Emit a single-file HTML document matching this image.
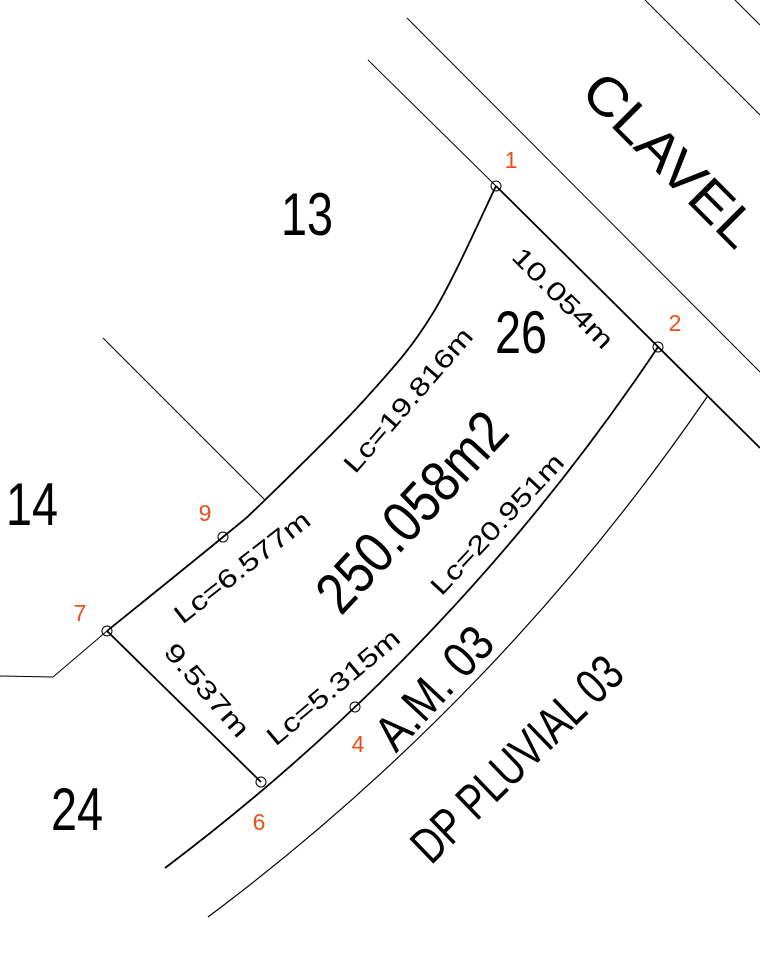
<!DOCTYPE html>
<html><head><style>body{margin:0;background:#fff}svg{display:block}</style></head><body>
<svg width="760" height="962" viewBox="0 0 760 962" xmlns="http://www.w3.org/2000/svg" font-family="Liberation Sans, sans-serif">
<g fill="none" stroke="#000" stroke-linejoin="round">
<line x1="368" y1="60" x2="496" y2="186" stroke-width="1"/>
<line x1="407" y1="18" x2="760" y2="372" stroke-width="1"/>
<line x1="645" y1="0" x2="760" y2="115" stroke-width="1"/>
<line x1="735" y1="0" x2="760" y2="25" stroke-width="1"/>
<line x1="496" y1="186" x2="760" y2="448" stroke-width="1.8"/>
<line x1="103" y1="338" x2="265" y2="500" stroke-width="1"/>
<polyline points="107,631 53,677 0,676" stroke-width="1"/>
<path d="M496,186 C485.5,207.2 454.5,277.8 433,313 C411.5,348.2 395,365.8 367,397 C339,428.2 289,476.7 265,500 C241,523.3 249.3,515.2 223,537 C196.7,558.8 126.3,615.3 107,631" stroke-width="1.8"/>
<path d="M658,347 A2142,2142 0 0 1 165,868" stroke-width="1.8"/>
<path d="M707,397 A2208,2208 0 0 1 208,917" stroke-width="1.2"/>
<line x1="107" y1="631" x2="261" y2="782" stroke-width="1.8"/>
<g stroke-width="1">
<circle cx="496" cy="186" r="5"/><circle cx="658" cy="347" r="5"/>
<circle cx="223" cy="537" r="5"/><circle cx="107" cy="631" r="5"/>
<circle cx="355" cy="707" r="5"/><circle cx="261" cy="782" r="5"/>
</g>
</g>
<g fill="#e8501a" font-size="23" text-anchor="middle" dominant-baseline="central">
<text x="511" y="160">1</text><text x="675" y="323">2</text>
<text x="205" y="513">9</text><text x="80" y="613">7</text>
<text x="358" y="744">4</text><text x="259" y="822">6</text>
</g>
<g fill="#000" text-anchor="middle" dominant-baseline="central" font-size="60">
<text transform="translate(307,215) scale(0.78,1)">13</text>
<text transform="translate(521,333) scale(0.78,1)">26</text>
<text transform="translate(32,505) scale(0.78,1)">14</text>
<text transform="translate(77,810) scale(0.78,1)">24</text>
<text transform="translate(670,160) rotate(45)" font-size="54" textLength="222" lengthAdjust="spacingAndGlyphs">CLAVEL</text>
<text transform="translate(412,512) rotate(-47)" font-size="58" textLength="250" lengthAdjust="spacingAndGlyphs">250.058m2</text>
<text transform="translate(434,688) rotate(-47)" font-size="50" textLength="148" lengthAdjust="spacingAndGlyphs">A.M. 03</text>
<text transform="translate(517,759) rotate(-44)" font-size="50" textLength="272" lengthAdjust="spacingAndGlyphs">DP PLUVIAL 03</text>
</g>
<g fill="#000" text-anchor="middle" dominant-baseline="central" font-size="26">
<text transform="translate(563,298) rotate(45)" textLength="131" lengthAdjust="spacingAndGlyphs">10.054m</text>
<text transform="translate(408,400) rotate(-49)" textLength="182" lengthAdjust="spacingAndGlyphs">Lc=19.816m</text>
<text transform="translate(242,567) rotate(-38)" textLength="165" lengthAdjust="spacingAndGlyphs">Lc=6.577m</text>
<text transform="translate(497,524) rotate(-47)" textLength="182" lengthAdjust="spacingAndGlyphs">Lc=20.951m</text>
<text transform="translate(333,687) rotate(-40)" textLength="165" lengthAdjust="spacingAndGlyphs">Lc=5.315m</text>
<text transform="translate(207,690) rotate(49)" textLength="115" lengthAdjust="spacingAndGlyphs">9.537m</text>
</g>
</svg>
</body></html>
